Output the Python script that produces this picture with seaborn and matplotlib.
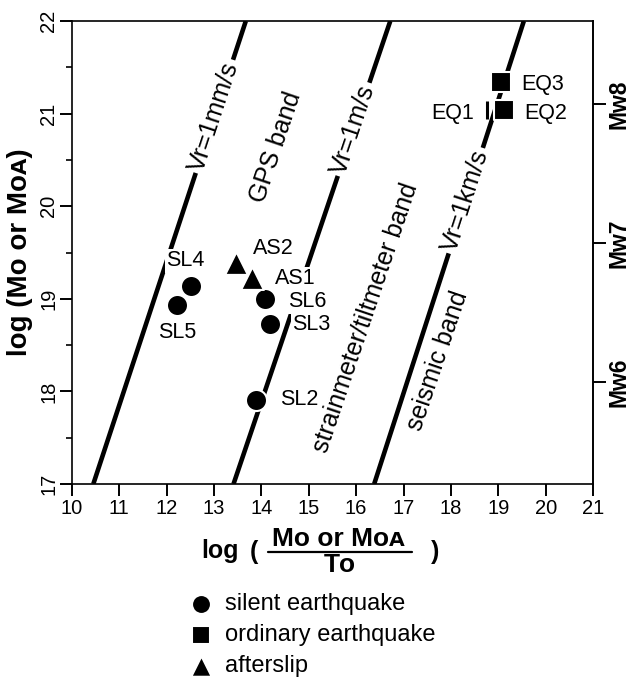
import numpy as np
import pandas as pd
import matplotlib
matplotlib.use('Agg')
import matplotlib.pyplot as plt
import seaborn as sns

# events: log(Mo/To) vs log(Mo)
labels = ['SL2', 'SL3', 'SL4', 'SL5', 'SL6', 'EQ1', 'EQ2', 'EQ3', 'AS1', 'AS2']
kinds = ['silent earthquake'] * 5 + ['ordinary earthquake'] * 3 + ['afterslip'] * 2
log_rate = [13.89, 14.18, 12.52, 12.22, 14.08, 18.77, 19.12, 19.05, 13.79, 13.46]
log_mo = [17.91, 18.73, 19.14, 18.93, 19.00, 21.04, 21.04, 21.34, 19.23, 19.39]

# rupture velocity lines: log(Mo/To) where log Mo = 17 and 22
vr_names = ['Vr=1mm/s', 'Vr=1m/s', 'Vr=1km/s']
vr_x17 = [10.45, 13.41, 16.38]
vr_x22 = [13.67, 16.72, 19.54]

band_names = ['GPS band', 'strainmeter/tiltmeter band', 'seismic band']
mw_ticks = [6, 7, 8]

# layout (pixels / data positions of annotations)
W, H = 632, 680
label_offset_px = {'SL2': (43, 0), 'SL3': (41, -1), 'SL4': (-6, 25), 'SL5': (0, -27),
                   'SL6': (42, -3), 'EQ1': (-35, -4), 'EQ2': (42, -4), 'EQ3': (42, -2),
                   'AS1': (44, -1), 'AS2': (37, 14)}
vr_label_y = [20.97, 20.83, 20.06]
band_label_xy = [(14.31, 20.64), (16.20, 18.79), (17.73, 18.33)]
marker_of = {'silent earthquake': 'o', 'ordinary earthquake': 's', 'afterslip': '^'}
size_of = {'silent earthquake': 230, 'ordinary earthquake': 200, 'afterslip': 270}

sns.set_style('ticks', {'axes.edgecolor': 'black', 'xtick.color': 'black', 'ytick.color': 'black',
                        'text.color': 'black', 'axes.labelcolor': 'black'})
plt.rcParams['font.family'] = ['Liberation Sans', 'DejaVu Sans']

fig = plt.figure(figsize=(W / 100, H / 100), dpi=100)
ax = fig.add_axes([72 / W, 1 - 484 / H, 521 / W, 463 / H])

# Vr lines
lines = pd.DataFrame({'line': np.repeat(vr_names, 2),
                      'x': np.ravel(list(zip(vr_x17, vr_x22))),
                      'y': [17, 22] * len(vr_names)})
sns.lineplot(data=lines, x='x', y='y', units='line', estimator=None, color='k',
             lw=3.3, solid_capstyle='butt', ax=ax, zorder=2)

for name, x0, x1, yl in zip(vr_names, vr_x17, vr_x22, vr_label_y):
    ang = np.degrees(np.arctan2(22 - 17, x1 - x0))
    xl = x0 + (yl - 17) / 5 * (x1 - x0)
    ax.text(xl, yl, name, rotation=ang, transform_rotates_text=True, rotation_mode='anchor',
            ha='center', va='center', fontsize=18, zorder=3,
            bbox=dict(fc='white', ec='none', pad=2))

band_ang = np.degrees(np.arctan2(5, vr_x22[1] - vr_x17[1]))
for name, (bx, by) in zip(band_names, band_label_xy):
    ax.text(bx, by, name, rotation=band_ang, transform_rotates_text=True, rotation_mode='anchor',
            ha='center', va='center', fontsize=18, zorder=3)

# events
df = pd.DataFrame({'label': labels, 'kind': kinds, 'x': log_rate, 'y': log_mo})
main = df[df.label != 'EQ1']
for kind, mk in marker_of.items():
    sub = main[main.kind == kind]
    sns.scatterplot(data=sub, x='x', y='y', marker=mk, s=size_of[kind], color='k',
                    edgecolor='white', linewidth=1.5, label=kind, ax=ax, zorder=4)
eq1 = df[df.label == 'EQ1']
ax.scatter(eq1.x, eq1.y, marker='|', s=150, color='k', linewidths=2.2, zorder=4)

for _, r in df.iterrows():
    dx, dy = label_offset_px[r.label]
    ax.annotate(r.label, (r.x, r.y), xytext=(dx * 0.72, dy * 0.72), textcoords='offset points',
                ha='center', va='center', fontsize=15.5, zorder=5,
                bbox=dict(fc='white', ec='none', pad=1))

ax.set_xlim(10, 21)
ax.set_ylim(17, 22)
ax.set_xticks(range(10, 22))
ax.set_yticks(range(17, 23))
ax.set_yticks(np.arange(17.5, 22, 1), minor=True)
ax.tick_params(axis='x', direction='out', length=8.5, width=1.4, labelsize=14.5, pad=2.5)
ax.tick_params(axis='y', which='major', direction='out', length=9, width=1.4, labelsize=14.5, pad=1)
ax.tick_params(axis='y', which='minor', direction='out', length=4.5, width=1.2)
plt.setp(ax.get_yticklabels(), rotation=90, va='center')
for s in ax.spines.values():
    s.set_linewidth(1.2)

ax.set_xlabel('')
ax.set_ylabel('log (Mᴏ or Mᴏᴀ)', fontsize=20, fontweight='bold')
ax.yaxis.set_label_coords(-0.075, 0.5)

# moment magnitude on the right
sec = ax.secondary_yaxis('right', functions=(lambda m: (m - 9.1) / 1.5, lambda w: 1.5 * w + 9.1))
sec.set_yticks(mw_ticks, labels=[f'Mᴡ{m}' for m in mw_ticks])
sec.tick_params(direction='out', length=9, width=1.4, labelsize=16.5, pad=1.5)
plt.setp(sec.get_yticklabels(), rotation=90, fontweight='bold', va='center')
sec.spines['right'].set_linewidth(1.2)

# x label as a fraction
def fig_text(x, y, s, size):
    fig.text(x / W, 1 - y / H, s, ha='center', va='center', fontweight='bold', fontsize=size)

fig_text(220, 551, 'log', 18)
fig_text(254, 552, '(', 18)
fig_text(338, 539, 'Mᴏ or Mᴏᴀ', 19)
fig_text(340, 565, 'Tᴏ', 19)
fig_text(435, 552, ')', 18)
fig.add_artist(plt.Line2D([268 / W, 412 / W], [1 - 552 / H, 1 - 552 / H], color='k', lw=1.6))

ax.legend(loc='upper left', bbox_to_anchor=(189 / W, 1 - 593 / H), bbox_transform=fig.transFigure,
          frameon=False, fontsize=17, handlelength=1.0, handletextpad=0.52, borderpad=0,
          borderaxespad=0, labelspacing=0.38, markerscale=0.9)

fig.savefig('out.png', dpi=100)
plt.close()
